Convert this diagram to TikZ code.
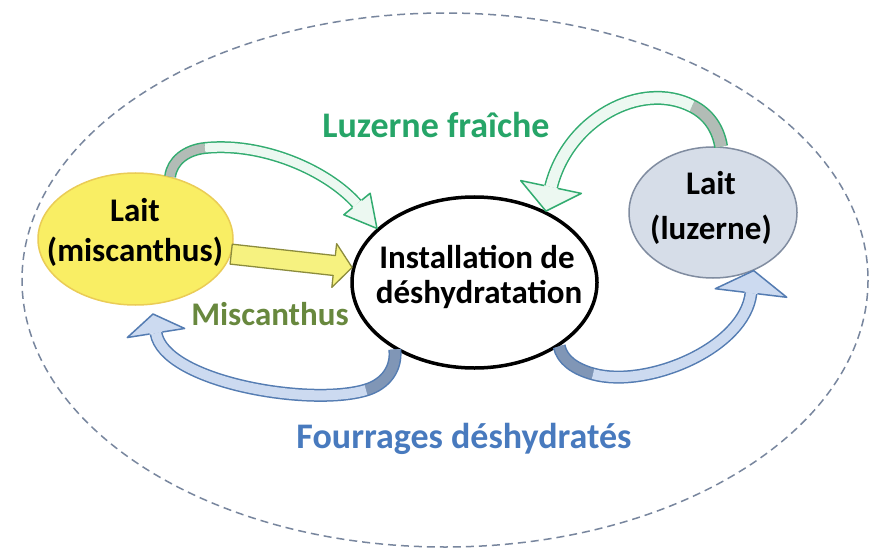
\documentclass[tikz,border=0pt]{standalone}
\usepackage{fontspec}
\setmainfont{Carlito}
\usetikzlibrary{calc,shapes.geometric}

\definecolor{yellowF}{RGB}{249,238,100}
\definecolor{yellowB}{RGB}{234,204,86}
\definecolor{yellowO}{RGB}{140,140,60}
\definecolor{yellowA}{RGB}{246,242,128}
\definecolor{greyF}{RGB}{214,221,232}
\definecolor{greyB}{RGB}{128,140,160}
\definecolor{greenT}{RGB}{38,165,104}
\definecolor{greenO}{RGB}{50,172,112}
\definecolor{greenF}{RGB}{236,248,241}
\definecolor{greenK}{RGB}{178,188,182}
\definecolor{oliveT}{RGB}{104,136,62}
\definecolor{blueT}{RGB}{72,122,190}
\definecolor{blueO}{RGB}{84,124,178}
\definecolor{blueF}{RGB}{204,218,240}
\definecolor{blueK}{RGB}{128,150,182}
\definecolor{ringC}{RGB}{120,134,158}

\begin{document}
\begin{tikzpicture}[x=1pt,y=-1pt,
  blob/.style={ellipse, inner sep=0pt},
  big/.style={font=\bfseries\fontsize{33}{33}\selectfont, anchor=base, inner sep=0pt},
  lbl/.style={font=\bfseries\fontsize{36}{36}\selectfont, anchor=base, inner sep=0pt},
  headtip/.style={line width=1.5pt, line join=round}]

\useasboundingbox (0,0) rectangle (874,553);
\fill[white] (0,0) rectangle (874,553);

% dashed boundary of the whole system
\draw[ringC, line width=1.5pt, dash pattern=on 8pt off 5pt]
  (445,280) ellipse [x radius=423, y radius=267];

% the three units
\node[blob, fill=yellowF, draw=yellowB, line width=1.5pt,
      minimum width=195pt, minimum height=132pt] (milkM) at (135.5,239) {};
\node[blob, fill=greyF, draw=greyB, line width=1.5pt,
      minimum width=168pt, minimum height=131pt] (milkL) at (713,212.5) {};
\node[blob, fill=white, draw=black, line width=3.5pt,
      minimum width=245pt, minimum height=171pt] (plant) at (474.5,282.5) {};

\node[big] (tM1) at (135,222) {Lait};
\node[big] (tM2) at (135,261) {(miscanthus)};
\node[big] (tL1) at (711,195) {Lait};
\node[big] (tL2) at (711,240) {(luzerne)};
\node[big] (tP1) at (477,268) {Installation de};
\node[big] (tP2) at (479,303) {déshydratation};

% ---------- straight miscanthus arrow ----------
\coordinate (ya) at (milkM.-9);
\coordinate (yb) at (plant.173);
\coordinate (yE) at ($(yb)!18pt!(ya)$);
\filldraw[draw=yellowO, fill=yellowA, line width=1.3pt, line join=round]
  ($(ya)!10pt!90:(yb)$) -- ($(yE)!10pt!90:(yb)$) -- ($(yE)!22pt!90:(yb)$)
  -- (yb) -- ($(yE)!22pt!-90:(yb)$) -- ($(yE)!10pt!-90:(yb)$)
  -- ($(ya)!10pt!-90:(yb)$) -- cycle;

% ---------- fresh lucerne, left loop ----------
\coordinate (glS) at (milkM.61);
\coordinate (glM) at (205,148);
\coordinate (glE) at (357,204);
\coordinate (glT) at (plant.151);
\draw[line width=12pt, greenO] (glS) .. controls (172,161) and (186,150) .. (glM)
  .. controls (262,142) and (327,170) .. (glE);
\draw[line width=9pt, greenK] (glS) .. controls (172,161) and (186,150) .. (glM);
\draw[line width=9pt, greenF] (glM) .. controls (262,142) and (327,170) .. (glE);
\filldraw[headtip, draw=greenO, fill=greenF]
  ($(glE)!6pt!90:(glT)$) -- ($(glE)!17pt!90:(glT)$) -- (glT)
  -- ($(glE)!17pt!-90:(glT)$) -- ($(glE)!6pt!-90:(glT)$);

% ---------- fresh lucerne, right loop ----------
\coordinate (grS) at (milkL.83);
\coordinate (grM) at (692,106);
\coordinate (grE) at (551,187);
\coordinate (grT) at (plant.45);
\draw[line width=14pt, greenO] (grS) .. controls (718,128) and (708,114) .. (grM)
  .. controls (641,80) and (568,119) .. (grE);
\draw[line width=11pt, greenK] (grS) .. controls (718,128) and (708,114) .. (grM);
\draw[line width=11pt, greenF] (grM) .. controls (641,80) and (568,119) .. (grE);
\filldraw[headtip, draw=greenO, fill=greenF]
  ($(grE)!7pt!90:(grT)$) -- ($(grE)!31pt!90:(grT)$) -- (grT)
  -- ($(grE)!31pt!-90:(grT)$) -- ($(grE)!7pt!-90:(grT)$);

% ---------- dehydrated forage, left loop ----------
\coordinate (blS) at (plant.-140);
\coordinate (blM) at (366,390);
\coordinate (blE) at (156,333);
\coordinate (blT) at (153,314);
\draw[line width=13pt, blueO] (blS) .. controls (397,368) and (386,384) .. (blM)
  .. controls (310,407) and (164,382) .. (blE);
\draw[line width=10pt, blueK] (blS) .. controls (397,368) and (386,384) .. (blM);
\draw[line width=10pt, blueF] (blM) .. controls (310,407) and (164,382) .. (blE);
\filldraw[headtip, draw=blueO, fill=blueF]
  ($(blE)!6.5pt!90:(blT)$) -- ($(blE)!29pt!90:(blT)$) -- (blT)
  -- ($(blE)!29pt!-90:(blT)$) -- ($(blE)!6.5pt!-90:(blT)$);

% ---------- dehydrated forage, right loop ----------
\coordinate (brS) at (plant.-37);
\coordinate (brM) at (593,374);
\coordinate (brE) at (751,293);
\coordinate (brT) at (milkL.-55);
\draw[line width=13pt, blueO] (brS) .. controls (562,360) and (575,369) .. (brM)
  .. controls (647,389) and (745,348) .. (brE);
\draw[line width=10pt, blueK] (brS) .. controls (562,360) and (575,369) .. (brM);
\draw[line width=10pt, blueF] (brM) .. controls (647,389) and (745,348) .. (brE);
\filldraw[headtip, draw=blueO, fill=blueF]
  ($(brE)!6.5pt!90:(brT)$) -- ($(brE)!36pt!90:(brT)$) -- (brT)
  -- ($(brE)!36pt!-90:(brT)$) -- ($(brE)!6.5pt!-90:(brT)$);

% flow labels
\node[lbl, text=greenT] (lLuz) at (436,138) {Luzerne fraîche};
\node[lbl, text=oliveT, font=\bfseries\fontsize{33}{33}\selectfont] (lMis) at (270,325) {Miscanthus};
\node[lbl, text=blueT] (lFou) at (464,448) {Fourrages déshydratés};

\end{tikzpicture}
\end{document}
